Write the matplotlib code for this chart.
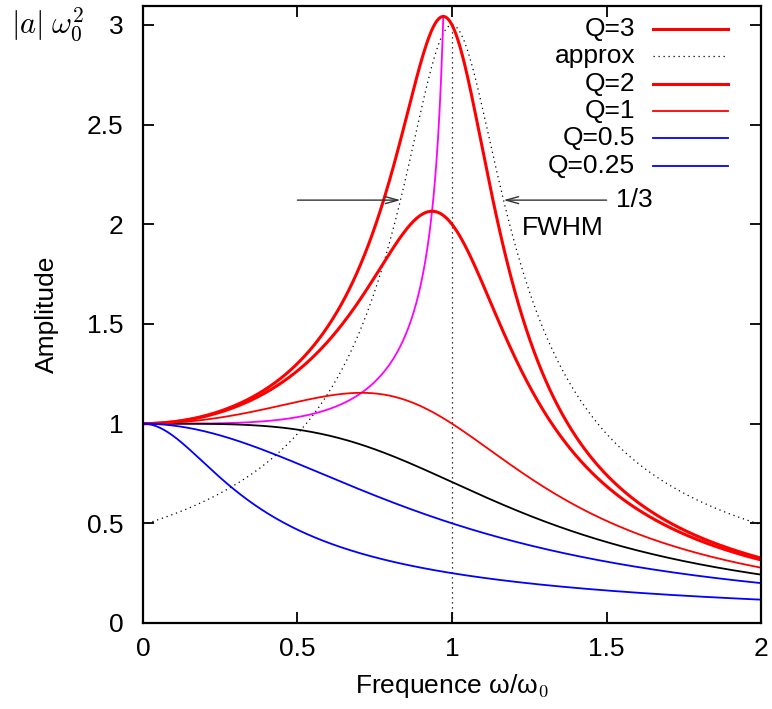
import numpy as np
import matplotlib
matplotlib.use("Agg")
import matplotlib.pyplot as plt

plt.rcParams['font.family'] = ['Liberation Sans', 'DejaVu Sans']
plt.rcParams['mathtext.fontset'] = 'cm'

# Quality factors of the plotted resonance curves
q_labels = ["Q=3", "Q=2", "Q=1", "Q=0.5", "Q=0.25"]
q_values = [3.0, 2.0, 1.0, 0.5, 0.25]
q_colors = ["#ff0000", "#ff0000", "#ff0000", "#0000ff", "#0000ff"]
q_widths = [2.2, 2.2, 1.3, 1.3, 1.3]
q_black = 1 / np.sqrt(2)      # unlabeled black curve
q_approx = 3.0                # Lorentzian approximation for Q=3

x = np.linspace(0, 2, 801)

def amp(x, q):
    return 1.0 / np.sqrt((1 - x**2)**2 + (x / q)**2)

FS = 19

fig = plt.figure(figsize=(7.72, 7.09), dpi=100)
ax = fig.add_axes([0.185, 0.1213, 0.801, 0.8702])

# approximation (dotted)
approx = q_approx / np.sqrt(1 + 4 * q_approx**2 * (x - 1)**2)
ax.plot(x, approx, color='black', ls=(0, (1, 3)), lw=0.9)
ax.plot([1, 1], [0, q_approx], color='black', ls=(0, (1, 3)), lw=0.9)

# locus of maxima (magenta)
xr = np.sqrt(1 - 1 / (2 * q_values[0]**2))
xm = np.linspace(0, xr, 400)
ax.plot(xm, 1 / np.sqrt(1 - xm**4), color='#ff00ff', lw=1.3)

ax.plot(x, amp(x, q_black), color='black', lw=1.3)
for q, c, w in zip(q_values, q_colors, q_widths):
    ax.plot(x, amp(x, q), color=c, lw=w)

# FWHM arrows
yh = q_approx / np.sqrt(2)
hw = 1 / (2 * q_approx)
aprops = dict(arrowstyle='->,head_length=0.9,head_width=0.25', color='#333333', lw=1.0,
              shrinkA=0, shrinkB=0)
ax.annotate('', xy=(1 - hw, yh), xytext=(0.5, yh), arrowprops=aprops)
ax.annotate('', xy=(1 + hw, yh), xytext=(1.5, yh), arrowprops=aprops)
ax.text(1.53, yh, '1/3', fontsize=FS, va='center', ha='left')
ax.text(1.225, 1.98, 'FWHM', fontsize=FS, va='center', ha='left')

# gnuplot-style legend
leg_entries = [("Q=3", '#ff0000', 2.2, '-'),
               ("approx", 'black', 0.9, (0, (1, 3))),
               ("Q=2", '#ff0000', 2.2, '-'),
               ("Q=1", '#ff0000', 1.3, '-'),
               ("Q=0.5", '#0000ff', 1.3, '-'),
               ("Q=0.25", '#0000ff', 1.3, '-')]
y0, dy = 0.963, 0.0443
for i, (lab, c, w, ls) in enumerate(leg_entries):
    yy = y0 - i * dy
    ax.text(0.796, yy, lab, transform=ax.transAxes, ha='right', va='center', fontsize=FS)
    ax.plot([0.825, 0.947], [yy, yy], transform=ax.transAxes, color=c, lw=w, ls=ls)

ax.set_xlim(0, 2)
ax.set_ylim(0, 3.095)
ax.set_xticks([0, 0.5, 1, 1.5, 2])
ax.set_xticklabels(['0', '0.5', '1', '1.5', '2'])
ax.set_yticks([0, 0.5, 1, 1.5, 2, 2.5, 3])
ax.set_yticklabels(['0', '0.5', '1', '1.5', '2', '2.5', '3'])
ax.tick_params(direction='in', length=8, width=1.3, labelsize=FS, top=True, right=True)
ax.tick_params(axis='x', pad=10)
ax.tick_params(axis='y', pad=14)
for s in ax.spines.values():
    s.set_linewidth(1.6)

ax.set_xlabel('Frequence ω/ω$_0$', fontsize=FS, labelpad=8)
ax.set_ylabel('Amplitude', fontsize=FS, labelpad=20)
fig.text(0.061, 0.965, r'$|a|\;\omega_0^2$', fontsize=22, ha='center', va='center')

fig.savefig('out.png', dpi=100)
